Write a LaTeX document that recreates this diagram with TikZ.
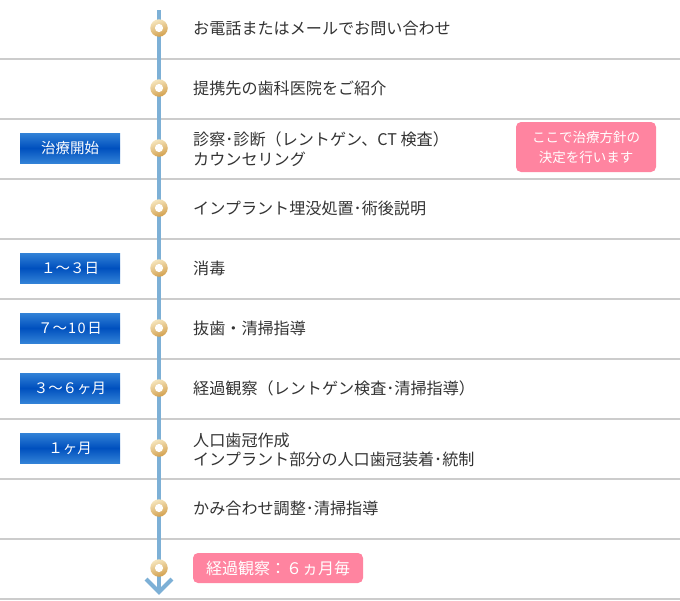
\documentclass[tikz,border=0pt]{standalone}
\usepackage{fontspec}
\setmainfont{Noto Sans CJK JP}
\definecolor{sepgray}{RGB}{204,204,204}
\definecolor{vblue}{RGB}{125,176,214}
\definecolor{txtgray}{RGB}{51,51,51}
\definecolor{bluelight}{RGB}{50,130,215}
\definecolor{bluedark}{RGB}{0,80,190}
\definecolor{pinkbox}{RGB}{255,132,160}
\definecolor{goldlight}{RGB}{246,230,190}
\definecolor{golddark}{RGB}{210,160,78}
\begin{document}
\begin{tikzpicture}[x=1pt,y=-1pt,
  sep/.style={draw=sepgray, line width=2pt},
  vline/.style={draw=vblue, line width=3.5pt},
  chevron/.style={draw=vblue, line width=4pt},
  ring/.style={circle, minimum size=17.5pt, inner sep=0pt, top color=goldlight, bottom color=golddark, shading angle=20,
    path picture={\fill[white] (path picture bounding box.center) circle (4.1pt);}},
  steptext/.style={anchor=west, text=txtgray, align=left, inner sep=0pt, font=\fontsize{16.1}{19.5}\selectfont},
  bluebox/.style={minimum width=100pt, minimum height=30pt, inner sep=0pt, top color=bluelight, bottom color=bluelight, middle color=bluedark, text=white, font=\fontsize{14.5}{17}\selectfont},
  pinkbg/.style={fill=pinkbox, rounded corners=5pt, inner sep=0pt, text=white, align=center, font=\fontsize{13.5}{20}\selectfont}
]
\useasboundingbox (0,0) rectangle (680,600);
% separators
\foreach \y in {59,119,179,239,299,359,419,479,539} {
  \draw[sep] (0,\y) -- (680,\y);
}
\draw[sep] (0,599) -- (680,599);
% vertical line
\coordinate (vtop) at (159,10);
\coordinate (vbot) at (159,592);
\draw[vline] (vtop) -- (vbot);
\coordinate (chl) at (146,579);
\coordinate (chr) at (172,579);
\draw[chevron, line join=miter] (chl) -- (vbot) -- (chr);
% rings
\foreach \i/\y in {1/28,2/88,3/148,4/208,5/268,6/328,7/388,8/448,9/508,10/568} {
  \node[ring] (c\i) at (159,\y) {};
}
% texts
\node[steptext] (t1) at (193,28) {お電話またはメールでお問い合わせ};
\node[steptext] (t2) at (193,88) {提携先の歯科医院をご紹介};
\node[steptext] (t3) at (193,149) {診察･診断（レントゲン、CT 検査）\\カウンセリング};
\node[steptext] (t4) at (193,208) {インプラント埋没処置･術後説明};
\node[steptext] (t5) at (193,268) {消毒};
\node[steptext] (t6) at (193,328) {抜歯・清掃指導};
\node[steptext] (t7) at (193,388) {経過観察（レントゲン検査･清掃指導）};
\node[steptext] (t8) at (193,450) {人口歯冠作成\\インプラント部分の人口歯冠装着･統制};
\node[steptext] (t9) at (193,508) {かみ合わせ調整･清掃指導};
% blue labels
\node[bluebox] (b3) at (70,148) {治療開始};
\node[bluebox] (b5) at (70,268) {１～３日};
\node[bluebox] (b6) at (70,328) {７～\kern1pt1\kern1.5pt0\kern1.5pt日};
\node[bluebox] (b7) at (70,388) {３～６ヶ月};
\node[bluebox] (b8) at (70,448) {１ヶ月};
% pink boxes
\node[pinkbg, minimum width=140pt, minimum height=50pt] (p3) at (586,147) {ここで治療方針の\\決定を行います};
\node[pinkbg, minimum width=170pt, minimum height=30pt, font=\fontsize{16}{18}\selectfont] (p10) at (278,568) {経過観察：６ヵ月毎};
\end{tikzpicture}
\end{document}
